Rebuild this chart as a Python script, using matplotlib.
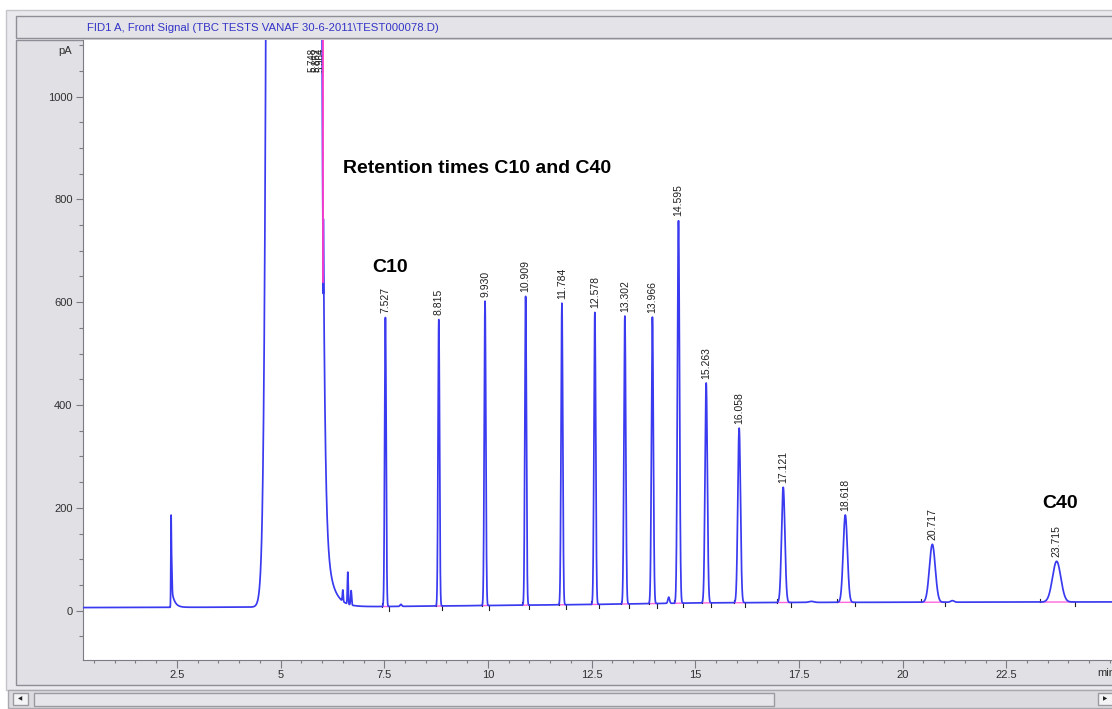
import numpy as np
import matplotlib.pyplot as plt
from matplotlib.patches import Rectangle
from matplotlib.ticker import MultipleLocator

plt.rcParams['font.family'] = ['Liberation Sans', 'DejaVu Sans']

W, H = 1112, 709

# labelled peaks
peak_labels = ['7.527', '8.815', '9.930', '10.909', '11.784', '12.578', '13.302',
               '13.966', '14.595', '15.263', '16.058', '17.121', '18.618', '20.717', '23.715']
peak_rt = [7.527, 8.815, 9.930, 10.909, 11.784, 12.578, 13.302,
           13.966, 14.595, 15.263, 16.058, 17.121, 18.618, 20.717, 23.715]
peak_top = [571, 567, 602, 612, 598, 580, 573, 571, 759, 443, 355, 240, 186, 129, 96]
peak_sigma = [0.018, 0.018, 0.019, 0.019, 0.020, 0.021, 0.022, 0.023, 0.025,
              0.028, 0.032, 0.040, 0.050, 0.070, 0.100]

# unlabelled small peaks
minor_rt = [2.357, 2.372, 6.50, 6.62, 6.70, 7.90, 14.36, 17.80, 21.20]
minor_height = [130, 60, 22, 62, 28, 4, 12, 2, 3]
minor_sigma = [0.006, 0.009, 0.010, 0.010, 0.012, 0.02, 0.02, 0.06, 0.04]

# solvent peak (off scale) and tailing
solvent_rt, solvent_height, solvent_sigma = 5.32, 1.0e6, 0.184
tail_start = [2.36, 6.03]
tail_amp = [40, 170]
tail_tau = [0.07, 0.17]

# baseline drift
base_t = [0.2, 5.0, 7.5, 10.0, 12.5, 15.0, 17.5, 25.2]
base_pa = [6, 7, 8, 10, 12, 15, 16, 17]

solvent_labels = ['5.748', '5.862', '5.964']
solvent_label_rt = [5.76, 5.86, 5.96]

x_ticks = [2.5, 5, 7.5, 10, 12.5, 15, 17.5, 20, 22.5]
x_ticklabels = ['2.5', '5', '7.5', '10', '12.5', '15', '17.5', '20', '22.5']
y_ticks = [0, 200, 400, 600, 800, 1000]


def gauss(t, mu, h, s):
    return h * np.exp(-0.5 * ((t - mu) / s) ** 2)


t = np.arange(0.2, 25.3, 0.002)
base = np.interp(t, base_t, base_pa)
sig = base.copy()
for rt, top, s in zip(peak_rt, peak_top, peak_sigma):
    sig += gauss(t, rt, top - np.interp(rt, base_t, base_pa), s)
for rt, h, s in zip(minor_rt, minor_height, minor_sigma):
    sig += gauss(t, rt, h, s)
sig += gauss(t, solvent_rt, solvent_height, solvent_sigma)
for t0, a, tau in zip(tail_start, tail_amp, tail_tau):
    m = t >= t0
    sig[m] += a * np.exp(-(t[m] - t0) / tau)


def fx(px):
    return px / W


def fy(py):
    return 1 - py / H


fig = plt.figure(figsize=(W / 100, H / 100), dpi=100)
fig.patch.set_facecolor('white')


def frect(x, y, w, h, fc, ec='none', lw=1.0):
    fig.patches.append(Rectangle((fx(x), fy(y + h)), w / W, h / H, transform=fig.transFigure,
                                 facecolor=fc, edgecolor=ec, linewidth=lw, zorder=-10))


# window chrome
frect(6, 10, W, 680, '#EAEAEE', '#C4C4CA')
frect(16, 16, W, 22, '#E3E3E8', '#8E8E96')
frect(16, 40, W, 645, '#E0E0E5', '#8E8E96')
frect(8, 690, W, 18, '#DCDCE0', '#A8A8AE')
frect(13, 693, 15, 12, '#F4F4F6', '#9A9AA0')
frect(34, 693, 740, 13, '#E6E6EA', '#9A9AA0')
frect(1098, 693, 16, 12, '#F4F4F6', '#9A9AA0')
fig.text(fx(20.5), fy(699), '\u25c0', fontsize=4, ha='center', va='center',
         family='DejaVu Sans', color='#202020')
fig.text(fx(1105), fy(699), '\u25b6', fontsize=4, ha='center', va='center',
         family='DejaVu Sans', color='#202020')

fig.text(fx(87), fy(28), 'FID1 A, Front Signal (TBC TESTS VANAF 30-6-2011\\TEST000078.D)',
         fontsize=8.2, color='#3434C8', ha='left', va='center')

ax = fig.add_axes([fx(83), fy(660), (W - 83) / W, (660 - 40) / H])
ax.set_zorder(1)
ax.set_facecolor('white')
ax.set_xlim(0.234, 25.05)
ax.set_ylim(-96, 1110)

ax.plot(t, sig, color='#3A3AF0', lw=1.25, zorder=3)

# integration marks
ax.plot([6.02, 6.02], [640, 1110], color='#FF3DCC', lw=1.3, zorder=4)
for rt, s in zip(peak_rt, peak_sigma):
    a, b = rt - 4 * s, rt + 4.5 * s
    ya, yb = np.interp(a, base_t, base_pa), np.interp(b, base_t, base_pa)
    ax.plot([a, b], [ya, yb], color='#FF66DD', lw=1.0, zorder=2)
    ax.plot([b, b], [yb, yb - 8], color='#202020', lw=0.8, zorder=2)
    ax.plot([a, a], [ya, ya + 6], color='#202020', lw=0.8, zorder=2)

for lab, rt, top in zip(peak_labels, peak_rt, peak_top):
    ax.text(rt, top + 8, lab, rotation=90, ha='center', va='bottom', fontsize=7.5,
            color='#202020')
for lab, rt in zip(solvent_labels, solvent_label_rt):
    ax.text(rt, 1048, lab, rotation=90, ha='center', va='bottom', fontsize=7.0,
            color='#202020')

ax.text(6.51, 851, 'Retention times C10 and C40', fontsize=14, fontweight='bold',
        ha='left', va='baseline')
ax.text(7.20, 658, 'C10', fontsize=14, fontweight='bold', ha='left', va='baseline')
ax.text(23.36, 199, 'C40', fontsize=14, fontweight='bold', ha='left', va='baseline')

for sp in ['top', 'right']:
    ax.spines[sp].set_visible(False)
for sp in ['left', 'bottom']:
    ax.spines[sp].set_color('#7C7C84')

ax.set_xticks(x_ticks)
ax.set_xticklabels(x_ticklabels)
ax.set_yticks(y_ticks)
ax.xaxis.set_minor_locator(MultipleLocator(0.5))
ax.yaxis.set_minor_locator(MultipleLocator(50))
ax.tick_params(axis='x', which='major', length=5.5, width=0.8, color='#7C7C84',
               labelsize=8, labelcolor='#303030', pad=1.5)
ax.tick_params(axis='x', which='minor', length=2.5, width=0.8, color='#7C7C84')
ax.tick_params(axis='y', which='major', length=5, width=0.8, color='#7C7C84',
               labelsize=8, labelcolor='#303030', pad=2.5)
ax.tick_params(axis='y', which='minor', length=3, width=0.8, color='#7C7C84')

fig.text(fx(72), fy(51), 'pA', fontsize=8, color='#303030', ha='right', va='center')
fig.text(fx(1097), fy(673), 'min', fontsize=8, color='#303030', ha='left', va='center')

fig.savefig('out.png', dpi=100, facecolor=fig.get_facecolor())
